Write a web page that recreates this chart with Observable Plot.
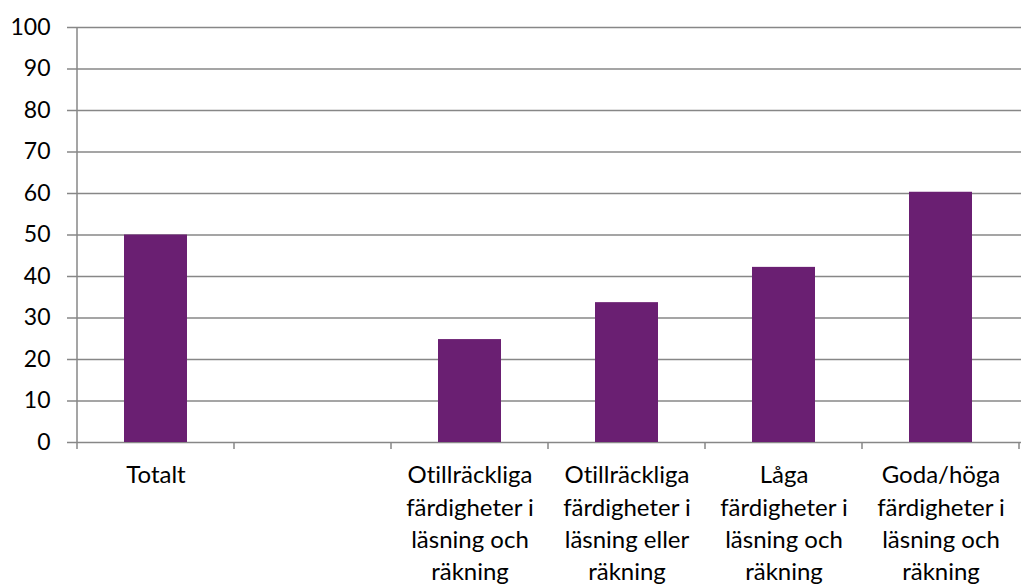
<!DOCTYPE html>
<html><head><meta charset="utf-8">
<script src="https://cdn.jsdelivr.net/npm/d3@7"></script>
<script src="https://cdn.jsdelivr.net/npm/@observablehq/plot@0.6"></script>
<style>html,body{margin:0;padding:0;background:#fff} svg text{font-variant-ligatures:none;font-feature-settings:"liga" 0;}</style>
</head><body><div id="chart"></div>
<script>
const categories = [
  "Totalt",
  " ",
  "Otillräckliga\nfärdigheter i\nläsning och\nräkning",
  "Otillräckliga\nfärdigheter i\nläsning eller\nräkning",
  "Låga\nfärdigheter i\nläsning och\nräkning",
  "Goda/höga\nfärdigheter i\nläsning och\nräkning"
];
const values = [50, null, 24.8, 33.7, 42.2, 60.3];
const yTicks = [0, 10, 20, 30, 40, 50, 60, 70, 80, 90, 100];

const data = categories.map((c, i) => ({category: c, value: values[i]})).filter(d => d.value != null);

const gridColor = "#878787";
const barColor = "#6A1F72";

// category boundary tick marks and left axis line
function categoryBoundaries(index, scales, vals, dimensions) {
  const x = scales.x, y = scales.y;
  const step = typeof x.step === "function" ? x.step() : x.step;
  const bw = typeof x.bandwidth === "function" ? x.bandwidth() : x.bandwidth;
  const off = (step - bw) / 2;
  const dom = x.domain();
  const y0 = y(0);
  const g = d3.create("svg:g").attr("stroke", gridColor).attr("stroke-width", 1.5);
  const xs = dom.map(c => x(c) - off);
  xs.push(x(dom[dom.length - 1]) - off + step);
  xs.forEach(px => {
    g.append("line").attr("x1", px).attr("x2", px).attr("y1", y0).attr("y2", y0 + 7);
  });
  g.append("line").attr("x1", xs[0]).attr("x2", xs[0]).attr("y1", y(100)).attr("y2", y0);
  return g.node();
}

const chart = Plot.plot({
  width: 1021,
  height: 587,
  marginLeft: 75,
  marginRight: 0,
  marginTop: 27,
  marginBottom: 145,
  x: {domain: categories, paddingInner: 0.6, paddingOuter: 0.3, label: null},
  y: {domain: [0, 100], label: null},
  style: {fontFamily: "Lato", fontSize: "23px", color: "#000", background: "#fff"},
  marks: [
    Plot.ruleY(yTicks, {stroke: gridColor, strokeWidth: 1.5}),
    Plot.barY(data, {x: "category", y: "value", fill: barColor}),
    Plot.axisY({ticks: yTicks, tickSize: 8, tickPadding: 17, stroke: gridColor, strokeWidth: 1.5, label: null}),
    Plot.axisX({tickSize: 0, tickPadding: 18, fontSize: 24, lineHeight: 1.345, label: null}),
    categoryBoundaries
  ]
});
document.getElementById("chart").appendChild(chart);
</script>
</body></html>
